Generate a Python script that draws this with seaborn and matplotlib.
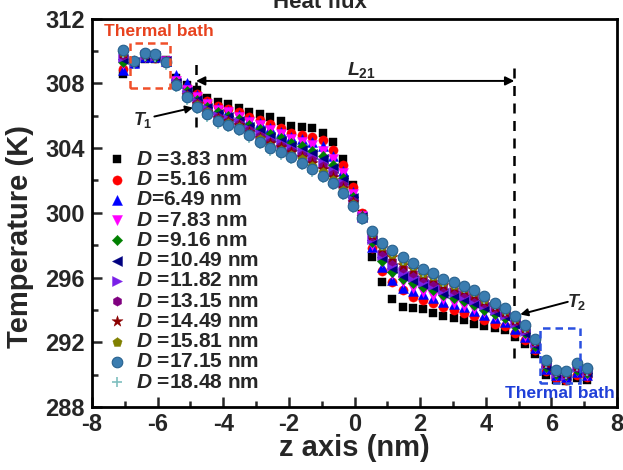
import matplotlib
matplotlib.use("Agg")
import matplotlib.pyplot as plt
import seaborn as sns
from matplotlib.patches import Rectangle
from matplotlib.ticker import MultipleLocator

# ---------------- data ----------------
z_nm = [-7.05, -6.72, -6.40, -6.08, -5.76, -5.44, -5.12, -4.81, -4.49, -4.17,
        -3.85, -3.53, -3.21, -2.89, -2.57, -2.25, -1.93, -1.61, -1.29, -0.97,
        -0.66, -0.35, -0.04, 0.24, 0.53, 0.84, 1.15, 1.47, 1.78, 2.09,
        2.40, 2.71, 3.02, 3.33, 3.64, 3.95, 4.27, 4.58, 4.89, 5.20,
        5.51, 5.83, 6.14, 6.45, 6.77, 7.08]

T_383 = [308.6, 309.2, 309.5, 309.5, 309.45, 308.3, 307.9, 307.6, 307.1, 306.85,
         306.7, 306.5, 306.2, 306.1, 305.9, 305.65, 305.35, 305.3, 305.25, 304.95,
         304.35, 303.3, 301.7, 299.9, 297.3, 295.7, 294.7, 294.2, 294.1, 294.05,
         293.8, 293.65, 293.5, 293.35, 293.15, 293.0, 292.9, 292.75, 292.3, 291.9,
         291.3, 290.0, 289.7, 289.6, 289.8, 289.7]
T_516 = [308.9, 309.25, 309.6, 309.55, 309.4, 308.2, 307.75, 307.35, 306.9, 306.6,
         306.4, 306.2, 305.9, 305.75, 305.5, 305.25, 304.95, 304.8, 304.7, 304.5,
         303.9, 302.95, 301.6, 300.0, 297.8, 296.4, 295.7, 295.2, 294.8, 294.6,
         294.4, 294.2, 294.0, 293.8, 293.6, 293.4, 293.15, 293.0, 292.6, 292.15,
         291.5, 290.2, 289.8, 289.7, 290.0, 289.85]
T_649 = [308.8, 309.25, 309.6, 309.6, 309.4, 308.5, 308.0, 307.3, 306.8, 306.45,
         306.3, 306.05, 305.75, 305.55, 305.25, 305.0, 304.7, 304.55, 304.4, 304.1,
         303.5, 302.6, 301.3, 299.85, 297.9, 296.65, 295.85, 295.35, 295.15, 295.0,
         294.75, 294.5, 294.35, 294.15, 293.95, 293.7, 293.5, 293.25, 292.8, 292.35,
         291.65, 290.35, 289.95, 289.85, 290.15, 289.95]
T_783 = [309.2, 309.25, 309.65, 309.6, 309.4, 308.15, 307.6, 307.15, 306.7, 306.35,
         306.2, 305.95, 305.6, 305.4, 305.1, 304.85, 304.55, 304.4, 304.2, 303.85,
         303.3, 302.45, 301.15, 299.8, 298.0, 296.95, 296.25, 295.75, 295.35, 295.1,
         294.85, 294.65, 294.45, 294.25, 294.05, 293.85, 293.6, 293.35, 293.0, 292.4,
         291.7, 290.4, 290.0, 289.9, 290.2, 290.0]
T_916 = [309.3, 309.3, 309.7, 309.65, 309.35, 308.1, 307.5, 307.0, 306.55, 306.2,
         306.0, 305.8, 305.45, 305.15, 304.85, 304.6, 304.3, 304.1, 303.85, 303.5,
         302.95, 302.15, 301.0, 299.8, 298.2, 297.05, 296.35, 295.9, 295.65, 295.4,
         295.2, 294.9, 294.75, 294.55, 294.3, 294.0, 293.75, 293.5, 293.0, 292.55,
         291.8, 290.5, 290.05, 289.95, 290.3, 290.1]
T_1049 = [309.5, 309.3, 309.7, 309.7, 309.35, 308.05, 307.45, 306.95, 306.45, 306.1,
          305.9, 305.7, 305.3, 305.05, 304.7, 304.45, 304.15, 303.9, 303.65, 303.3,
          302.75, 302.0, 300.9, 299.75, 298.3, 297.25, 296.6, 296.1, 295.85, 295.6,
          295.4, 295.05, 294.9, 294.7, 294.45, 294.15, 293.9, 293.6, 293.1, 292.6,
          291.85, 290.55, 290.1, 290.0, 290.35, 290.15]
T_1182 = [309.6, 309.3, 309.75, 309.7, 309.35, 308.0, 307.35, 306.85, 306.4, 306.0,
          305.8, 305.6, 305.2, 304.9, 304.55, 304.3, 304.0, 303.75, 303.45, 303.1,
          302.6, 301.85, 300.8, 299.75, 298.4, 297.4, 296.8, 296.35, 296.05, 295.75,
          295.55, 295.25, 295.1, 294.85, 294.6, 294.3, 294.0, 293.7, 293.2, 292.7,
          291.95, 290.65, 290.1, 290.0, 290.45, 290.2]
T_1315 = [309.75, 309.3, 309.75, 309.75, 309.35, 308.0, 307.3, 306.8, 306.3, 305.9,
          305.7, 305.5, 305.1, 304.75, 304.4, 304.15, 303.85, 303.6, 303.25, 302.9,
          302.4, 301.7, 300.7, 299.75, 298.55, 297.6, 297.05, 296.6, 296.3, 295.95,
          295.75, 295.4, 295.25, 295.05, 294.8, 294.45, 294.1, 293.8, 293.3, 292.8,
          292.0, 290.7, 290.15, 290.05, 290.5, 290.25]
T_1449 = [309.85, 309.35, 309.8, 309.75, 309.3, 307.95, 307.25, 306.7, 306.25, 305.85,
          305.65, 305.4, 305.0, 304.65, 304.3, 304.05, 303.75, 303.45, 303.1, 302.7,
          302.2, 301.55, 300.65, 299.75, 298.65, 297.8, 297.25, 296.8, 296.5, 296.15,
          295.95, 295.55, 295.4, 295.2, 294.95, 294.55, 294.2, 293.9, 293.4, 292.9,
          292.05, 290.75, 290.2, 290.1, 290.55, 290.3]
T_1581 = [309.95, 309.35, 309.8, 309.8, 309.3, 307.95, 307.2, 306.65, 306.2, 305.75,
          305.55, 305.3, 304.9, 304.55, 304.15, 303.9, 303.6, 303.3, 302.9, 302.5,
          302.05, 301.4, 300.55, 299.7, 298.75, 297.95, 297.45, 297.0, 296.7, 296.3,
          296.1, 295.7, 295.55, 295.35, 295.1, 294.7, 294.35, 294.0, 293.5, 292.95,
          292.15, 290.85, 290.25, 290.15, 290.65, 290.35]
T_1715 = [310.05, 309.35, 309.85, 309.8, 309.3, 307.9, 307.15, 306.55, 306.1, 305.65,
          305.45, 305.2, 304.8, 304.4, 304.0, 303.75, 303.45, 303.1, 302.7, 302.3,
          301.85, 301.25, 300.45, 299.7, 298.9, 298.15, 297.7, 297.25, 296.9, 296.5,
          296.3, 295.9, 295.75, 295.5, 295.25, 294.85, 294.45, 294.1, 293.6, 293.05,
          292.2, 290.9, 290.3, 290.2, 290.7, 290.4]
T_1848 = [309.9, 309.2, 309.7, 309.65, 309.15, 307.75, 307.0, 306.4, 305.95, 305.5,
          305.3, 305.05, 304.65, 304.25, 303.85, 303.6, 303.3, 302.95, 302.55, 302.15,
          301.7, 301.1, 300.3, 299.55, 298.75, 298.0, 297.55, 297.1, 296.75, 296.35,
          296.15, 295.75, 295.6, 295.35, 295.1, 294.7, 294.3, 293.95, 293.45, 292.9,
          292.05, 290.75, 290.15, 290.05, 290.55, 290.25]

diameters = ["3.83", "5.16", "6.49", "7.83", "9.16", "10.49",
             "11.82", "13.15", "14.49", "15.81", "17.15", "18.48"]
series_T = [T_383, T_516, T_649, T_783, T_916, T_1049,
            T_1182, T_1315, T_1449, T_1581, T_1715, T_1848]

# ---------------- styling ----------------
markers = ["s", "o", "^", "v", "D", "<", ">", "h", "*", "p", "o", "+"]
colors = ["#000000", "#ff0000", "#0000ff", "#ff00ff", "#008000", "#000080",
          "#7a1fe8", "#800080", "#8b0000", "#808000", "#3b7db0", "#7fbfbf"]
sizes = [38, 44, 52, 52, 28, 52, 52, 46, 70, 50, 58, 46]
zorders = [2.0, 2.1, 2.2, 2.3, 2.4, 2.5, 2.6, 2.7, 2.8, 2.9, 3.1, 3.0]

sns.set_style("ticks")
plt.rcParams["font.family"] = ["Liberation Sans", "DejaVu Sans"]
plt.rcParams["font.weight"] = "bold"
plt.rcParams["axes.unicode_minus"] = False
plt.rcParams["mathtext.fontset"] = "custom"
plt.rcParams["mathtext.it"] = "Liberation Sans:italic:bold"
plt.rcParams["mathtext.rm"] = "Liberation Sans:bold"
plt.rcParams["mathtext.bf"] = "Liberation Sans:bold"

fig = plt.figure(figsize=(6.23, 4.70), dpi=100)
ax = fig.add_axes([0.1477, 0.134, 0.8427, 0.8264])

for d, T, m, c, s, zo in zip(diameters, series_T, markers, colors, sizes, zorders):
    space = "" if d == "6.49" else " "
    label = r"$D$" + space + "=" + d + " nm"
    if m == "+":
        sns.scatterplot(x=z_nm, y=T, marker=m, color=c, s=s, linewidth=1.2,
                        ax=ax, label=label, zorder=zo)
    elif d == "17.15":
        sns.scatterplot(x=z_nm, y=T, marker=m, color=c, s=s, edgecolor="#27618e",
                        linewidth=0.8, ax=ax, label=label, zorder=zo)
    else:
        sns.scatterplot(x=z_nm, y=T, marker=m, color=c, s=s, edgecolor=c,
                        linewidth=0.3, ax=ax, label=label, zorder=zo)

ax.set_xlim(-8, 8)
ax.set_ylim(288, 312)
ax.xaxis.set_major_locator(MultipleLocator(2))
ax.xaxis.set_minor_locator(MultipleLocator(1))
ax.yaxis.set_major_locator(MultipleLocator(4))
ax.yaxis.set_minor_locator(MultipleLocator(2))
ax.tick_params(which="both", direction="in", width=1.8, labelsize=17,
               top=False, right=False)
ax.tick_params(which="major", length=7)
ax.tick_params(which="minor", length=4)
ax.tick_params(axis="x", pad=4)
ax.tick_params(axis="y", pad=5)
for sp in ax.spines.values():
    sp.set_linewidth(2.0)
    sp.set_color("black")

ax.set_xlabel("z axis (nm)", fontsize=21, fontweight="bold")
ax.set_ylabel("Temperature (K)", fontsize=21, fontweight="bold")
ax.xaxis.set_label_coords(0.5, -0.105)
ax.xaxis.label.set_va("center")
ax.yaxis.set_label_coords(-0.11, 0.438)

# legend
leg = ax.legend(loc="upper left", bbox_to_anchor=(0.03, 0.662), frameon=False,
                fontsize=15, handlelength=0.9, handletextpad=0.45,
                labelspacing=0.06, borderpad=0, borderaxespad=0)

# annotations
dash = (0, (4, 3))
ax.plot([-4.83, -4.83], [305.3, 309.55], color="black", lw=1.8, ls=dash)
ax.plot([4.87, 4.87], [291.0, 309.25], color="black", lw=1.8, ls=dash)
ax.annotate("", xy=(4.87, 308.15), xytext=(-4.83, 308.15),
            arrowprops=dict(arrowstyle="<|-|>", color="black", lw=1.4,
                            shrinkA=0, shrinkB=0, mutation_scale=13))
ax.text(0.2, 308.85, r"$L_{\mathit{21}}$", fontsize=14, ha="center", va="center")
ax.annotate("", xy=(-4.92, 306.5), xytext=(-6.1, 305.95),
            arrowprops=dict(arrowstyle="-|>", color="black", lw=1.4,
                            shrinkA=0, shrinkB=0, mutation_scale=11))
ax.text(-6.45, 305.75, r"$T_{\mathit{1}}$", fontsize=13, ha="center", va="center")
ax.annotate("", xy=(5.05, 293.72), xytext=(6.5, 294.5),
            arrowprops=dict(arrowstyle="-|>", color="black", lw=1.4,
                            shrinkA=0, shrinkB=0, mutation_scale=11))
ax.text(6.78, 294.5, r"$T_{\mathit{2}}$", fontsize=13, ha="center", va="center")

ax.add_patch(Rectangle((-6.84, 307.69), 1.22, 2.78, fill=False, ls=(0, (3, 2)),
                       ec="#f0502a", lw=1.8, zorder=4))
ax.add_patch(Rectangle((5.66, 289.48), 1.22, 3.40, fill=False, ls=(0, (3, 2)),
                       ec="#2a50e0", lw=1.8, zorder=4))
ax.text(-5.96, 311.2, "Thermal bath", color="#e8421e", fontsize=12.5,
        ha="center", va="center", zorder=5)
ax.text(6.27, 288.82, "Thermal bath", color="#1f3fd8", fontsize=12.5,
        ha="center", va="center", zorder=5)

fig.text(0.514, 1 - 8 / 470, "Heat flux", ha="center", va="baseline",
         fontsize=16, fontweight="bold")

fig.savefig("out.png", dpi=100)
